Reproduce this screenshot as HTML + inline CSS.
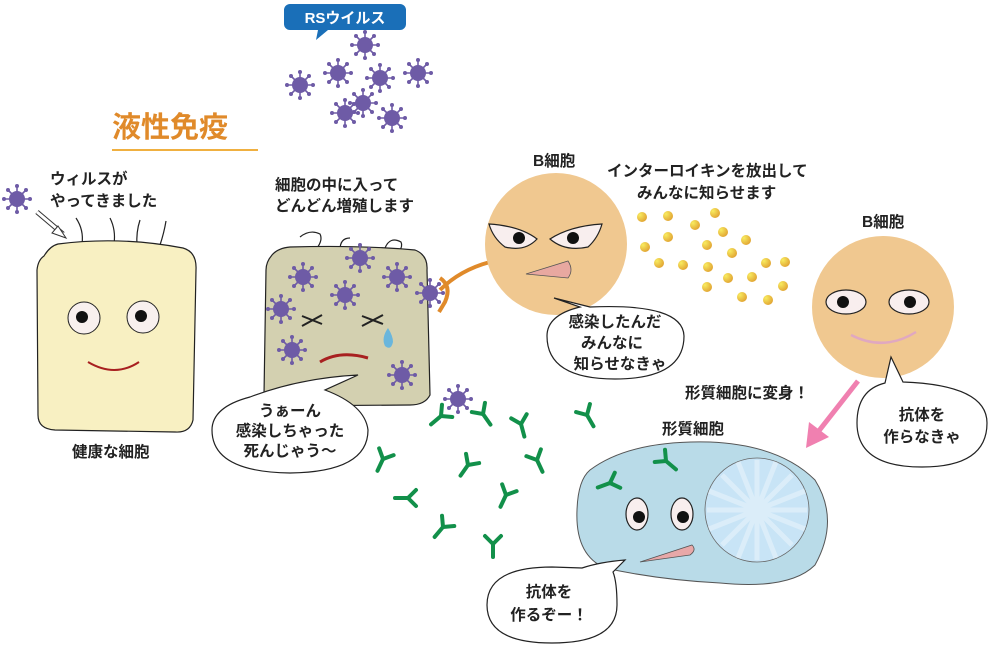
<!DOCTYPE html>
<html><head><meta charset="utf-8"><style>
html,body{margin:0;padding:0;background:#fff;}
svg{display:block;}
text{font-family:"Liberation Sans","Noto Sans CJK JP",sans-serif;font-weight:bold;fill:#222;}
</style></head><body>
<svg width="1000" height="657" viewBox="0 0 1000 657" xmlns="http://www.w3.org/2000/svg">
<defs>
<g id="v">
 <g stroke="#6e5ba6" stroke-width="1.6">
  <line x1="0" y1="-13" x2="0" y2="13"/><line x1="-13" y1="0" x2="13" y2="0"/>
  <line x1="-9" y1="-9" x2="9" y2="9"/><line x1="-9" y1="9" x2="9" y2="-9"/>
 </g>
 <g fill="#6e5ba6">
  <circle r="8"/>
  <circle cx="0" cy="-13" r="2"/><circle cx="0" cy="13" r="2"/><circle cx="-13" cy="0" r="2"/><circle cx="13" cy="0" r="2"/>
  <circle cx="-9" cy="-9" r="2"/><circle cx="9" cy="9" r="2"/><circle cx="-9" cy="9" r="2"/><circle cx="9" cy="-9" r="2"/>
 </g>
</g>
<g id="y" stroke="#12904a" stroke-width="4" stroke-linecap="round" fill="none">
 <line x1="0" y1="0" x2="0" y2="13"/><line x1="0" y1="0" x2="-8" y2="-8"/><line x1="0" y1="0" x2="8" y2="-8"/>
</g>
<radialGradient id="dg" cx="0.3" cy="0.3" r="0.8"><stop offset="0" stop-color="#f8ec60"/><stop offset="1" stop-color="#e0a030"/></radialGradient>
</defs>

<!-- RS label -->
<path d="M290 4 h110 a6 6 0 0 1 6 6 v14 a6 6 0 0 1 -6 6 h-72 l-12 10 l2 -10 h-28 a6 6 0 0 1 -6 -6 v-14 a6 6 0 0 1 6 -6z" fill="#1a6fb8"/>
<text x="345" y="23" font-size="15" text-anchor="middle" style="fill:#fff">RSウイルス</text>
<use href="#v" x="365" y="45"/><use href="#v" x="300" y="85"/><use href="#v" x="338" y="73"/><use href="#v" x="380" y="78"/>
<use href="#v" x="418" y="73"/><use href="#v" x="363" y="103"/><use href="#v" x="345" y="113"/><use href="#v" x="392" y="118"/>

<text x="112" y="137" font-size="29" style="fill:#e08a2a">液性免疫</text>
<line x1="112" y1="150" x2="258" y2="150" stroke="#f0b040" stroke-width="2"/>

<!-- healthy cell -->
<use href="#v" x="17" y="199"/>
<path d="M37 212 L63 234" stroke="#333" stroke-width="5"/><path d="M37 212 L63 234" stroke="#fff" stroke-width="3"/>
<path d="M58 226 L66 238 L52 233z" fill="#fff" stroke="#333" stroke-width="1"/>
<text x="50" y="184" font-size="15.5">ウィルスが</text>
<text x="50" y="206" font-size="15.5">やってきました</text>
<g stroke="#222" stroke-width="1.2" fill="none">
<path d="M76 218 q8 12 6 26"/><path d="M110 218 q6 12 4 26"/><path d="M140 220 q-4 12 -3 26"/><path d="M166 221 q-2 12 -6 24"/>
</g>
<path d="M58 244 Q120 236 183 248 Q197 252 196 270 L193 420 Q190 433 175 432 L55 430 Q38 429 38 415 L37 270 Q38 260 44 256 Q50 246 58 244z" fill="#f8f0c2" stroke="#222" stroke-width="1.2"/>
<circle cx="84" cy="318" r="16" fill="#f8f0ee" stroke="#222"/><circle cx="82" cy="317" r="6" fill="#111"/>
<circle cx="143" cy="317" r="16" fill="#f8f0ee" stroke="#222"/><circle cx="141" cy="316" r="6" fill="#111"/>
<path d="M88 362 Q115 378 139 362" stroke="#a82020" stroke-width="2" fill="none"/>
<text x="72" y="457" font-size="15.5">健康な細胞</text>

<!-- infected cell -->
<text x="275" y="190" font-size="15.5">細胞の中に入って</text>
<text x="275" y="211" font-size="15.5">どんどん増殖します</text>
<g stroke="#222" stroke-width="1.2" fill="none">
<path d="M300 237 q10 -8 20 -3 q3 6 -3 14"/><path d="M340 250 q0 -12 10 -12"/><path d="M385 248 q5 -12 16 -6 q2 4 -2 10"/>
</g>
<path d="M290 247 Q360 245 415 250 Q428 255 427 270 L430 395 Q425 405 410 405 L275 406 Q264 405 264 395 L266 270 Q266 262 272 255 Q278 248 290 247z" fill="#d3d0b0" stroke="#222" stroke-width="1.2"/>
<use href="#v" x="303" y="277"/><use href="#v" x="360" y="258"/><use href="#v" x="397" y="277"/><use href="#v" x="345" y="295"/>
<use href="#v" x="281" y="309"/><use href="#v" x="292" y="350"/><use href="#v" x="402" y="375"/>
<path d="M440 290 Q460 270 490 262" stroke="#e08a2a" stroke-width="4" fill="none"/>
<path d="M440 278 q12 8 5 24 l-6 10" stroke="#e08a2a" stroke-width="4" fill="none"/>
<use href="#v" x="430" y="293"/>
<g stroke="#222" stroke-width="2"><line x1="302" y1="316" x2="322" y2="324"/><line x1="302" y1="326" x2="322" y2="315"/>
<line x1="362" y1="316" x2="383" y2="324"/><line x1="362" y1="326" x2="383" y2="315"/></g>
<path d="M388 328 q-7 10 -3 18 q6 5 8 -4 q0 -6 -5 -14z" fill="#6ab6dc"/>
<path d="M320 362 Q340 350 368 358" stroke="#a82020" stroke-width="3" fill="none"/>
<path d="M250 397 Q300 378 358 375 L325 390 Q365 405 368 430 Q368 472 290 473 Q212 472 212 430 Q212 407 250 397z" fill="#fff" stroke="#222" stroke-width="1.2"/>
<text x="290" y="416" font-size="15.5" text-anchor="middle">うぁーん</text>
<text x="290" y="436" font-size="15.5" text-anchor="middle">感染しちゃった</text>
<text x="290" y="456" font-size="15.5" text-anchor="middle">死んじゃう〜</text>

<!-- B cell 1 -->
<text x="533" y="166" font-size="15.5">B細胞</text>
<circle cx="556" cy="244" r="71" fill="#f0c890"/>
<path d="M489 224 Q520 226 537 239 Q525 252 505 247 Q493 238 489 224z" fill="#f8eeee" stroke="#222" stroke-width="1.2"/>
<path d="M602 224 Q570 226 550 239 Q565 252 588 247 Q598 238 602 224z" fill="#f8eeee" stroke="#222" stroke-width="1.2"/>
<circle cx="519" cy="238" r="6" fill="#111"/><circle cx="573" cy="238" r="6" fill="#111"/>
<path d="M526 274 L568 261 Q574 270 568 278z" fill="#e8a8a0" stroke="#555" stroke-width="0.8"/>
<text x="607" y="176" font-size="15.5">インターロイキンを放出して</text>
<text x="637" y="198" font-size="15.5">みんなに知らせます</text>
<g fill="url(#dg)">
<circle cx="642" cy="217" r="5"/><circle cx="668" cy="216" r="5"/><circle cx="715" cy="213" r="5"/><circle cx="695" cy="225" r="5"/>
<circle cx="723" cy="232" r="5"/><circle cx="645" cy="247" r="5"/><circle cx="668" cy="237" r="5"/><circle cx="707" cy="245" r="5"/>
<circle cx="746" cy="240" r="5"/><circle cx="732" cy="253" r="5"/><circle cx="659" cy="263" r="5"/><circle cx="683" cy="265" r="5"/>
<circle cx="708" cy="267" r="5"/><circle cx="766" cy="263" r="5"/><circle cx="785" cy="262" r="5"/><circle cx="728" cy="278" r="5"/>
<circle cx="752" cy="277" r="5"/><circle cx="707" cy="287" r="5"/><circle cx="742" cy="297" r="5"/><circle cx="768" cy="300" r="5"/><circle cx="783" cy="286" r="5"/>
</g>
<path d="M554 298 L590 307 Q683 303 684 336 Q684 379 615 379 Q547 379 547 336 Q547 315 580 307z" fill="#fff" stroke="#222" stroke-width="1.2"/>
<text x="615" y="327" font-size="15.5" text-anchor="middle">感染したんだ</text>
<text x="612" y="348" font-size="15.5" text-anchor="middle">みんなに</text>
<text x="620" y="369" font-size="15.5" text-anchor="middle">知らせなきゃ</text>

<!-- B cell 2 -->
<text x="862" y="227" font-size="15.5">B細胞</text>
<circle cx="883" cy="307" r="71" fill="#f0c890"/>
<ellipse cx="846" cy="302" rx="20" ry="12" fill="#f8eeee" stroke="#222" stroke-width="1.2"/><circle cx="843" cy="302" r="6" fill="#111"/>
<ellipse cx="909" cy="302" rx="20" ry="12" fill="#f8eeee" stroke="#222" stroke-width="1.2"/><circle cx="910" cy="302" r="6" fill="#111"/>
<path d="M851 335 Q884 352 916 332" stroke="#e0a8c0" stroke-width="2.5" fill="none"/>
<path d="M891 357 L903 382 Q987 385 987 423 Q987 467 922 467 Q857 467 857 423 Q857 390 885 383z" fill="#fff" stroke="#222" stroke-width="1.2"/>
<text x="922" y="420" font-size="15.5" text-anchor="middle">抗体を</text>
<text x="922" y="442" font-size="15.5" text-anchor="middle">作らなきゃ</text>

<text x="685" y="398" font-size="15.5">形質細胞に変身！</text>
<line x1="858" y1="381" x2="818" y2="432" stroke="#f080b0" stroke-width="5"/>
<path d="M806 448 L809 422 L829 437z" fill="#f080b0"/>
<text x="662" y="434" font-size="15.5">形質細胞</text>

<!-- plasma cell -->
<path d="M590 470 Q630 440 710 442 Q780 445 815 480 Q840 520 815 565 Q790 590 720 583 Q660 580 605 568 Q575 555 577 510 Q578 480 590 470z" fill="#b9dbe8" stroke="#555" stroke-width="1"/>
<circle cx="757" cy="510" r="52" fill="#c8e4f6" stroke="#666" stroke-width="0.8"/>
<g stroke="#e0f0fa" stroke-width="5" opacity="0.8">
<line x1="757" y1="460" x2="757" y2="560"/><line x1="707" y1="510" x2="807" y2="510"/>
<line x1="722" y1="475" x2="792" y2="545"/><line x1="722" y1="545" x2="792" y2="475"/>
<line x1="738" y1="462" x2="776" y2="558"/><line x1="709" y1="491" x2="805" y2="529"/>
<line x1="709" y1="529" x2="805" y2="491"/><line x1="738" y1="558" x2="776" y2="462"/>
</g>
<ellipse cx="637" cy="514" rx="11" ry="16" fill="#f8eeee" stroke="#222" stroke-width="1.2"/><circle cx="639" cy="517" r="6" fill="#111"/>
<ellipse cx="682" cy="514" rx="11" ry="16" fill="#f8eeee" stroke="#222" stroke-width="1.2"/><circle cx="683" cy="517" r="6" fill="#111"/>
<path d="M640 562 L692 545 Q697 550 690 555z" fill="#e8a8a8" stroke="#555" stroke-width="0.8"/>
<path d="M582 568 Q600 562 625 560 L613 572 Q617 582 617 605 Q617 643 552 643 Q487 643 487 605 Q487 567 552 567z" fill="#fff" stroke="#222" stroke-width="1.2"/>
<text x="549" y="597" font-size="15.5" text-anchor="middle">抗体を</text>
<text x="549" y="620" font-size="15.5" text-anchor="middle">作るぞー！</text>

<!-- antibodies -->
<use href="#v" x="458" y="399"/>
<use href="#y" transform="translate(441,416) rotate(50)"/>
<use href="#y" transform="translate(483,414) rotate(-35)"/>
<use href="#y" transform="translate(521,424) rotate(-15)"/>
<use href="#y" transform="translate(587,415) rotate(-30)"/>
<use href="#y" transform="translate(383,459) rotate(25)"/>
<use href="#y" transform="translate(468,465) rotate(35)"/>
<use href="#y" transform="translate(537,460) rotate(-25)"/>
<use href="#y" transform="translate(408,498) rotate(90)"/>
<use href="#y" transform="translate(506,495) rotate(25)"/>
<use href="#y" transform="translate(443,527) rotate(40)"/>
<use href="#y" transform="translate(493,544) rotate(0)"/>
<use href="#y" transform="translate(666,461) rotate(-50)"/>
<use href="#y" transform="translate(610,483) rotate(70)"/>
</svg>
</body></html>
